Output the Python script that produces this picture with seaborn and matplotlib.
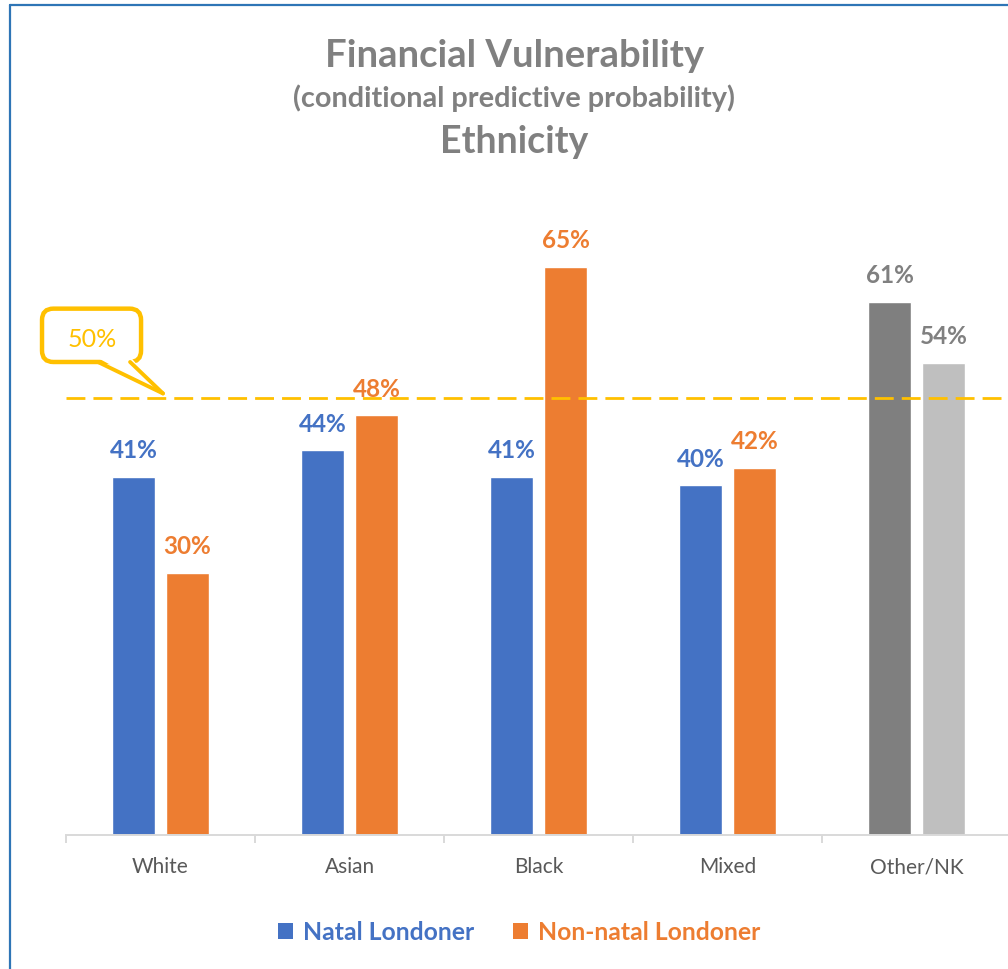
import matplotlib
matplotlib.use("Agg")
import matplotlib.pyplot as plt
from matplotlib.patches import FancyBboxPatch, Polygon, Patch
from matplotlib.lines import Line2D
import seaborn as sns
import pandas as pd

# ---- data -------------------------------------------------------------
categories = ["White", "Asian", "Black", "Mixed", "Other/NK"]
natal = [0.41, 0.44, 0.41, 0.40, 0.61]
non_natal = [0.30, 0.48, 0.65, 0.42, 0.54]
series_names = ["Natal Londoner", "Non-natal Londoner"]
threshold = 0.50

BLUE = "#4472C4"
ORANGE = "#ED7D31"
DARK_GREY = "#7F7F7F"
LIGHT_GREY = "#BFBFBF"
GOLD = "#FFC000"
TITLE_GREY = "#808080"
TICK_GREY = "#595959"
AXIS_GREY = "#D9D9D9"

df = pd.DataFrame({
    "ethnicity": categories * 2,
    "group": [series_names[0]] * len(categories) + [series_names[1]] * len(categories),
    "prob": natal + non_natal,
})

sns.set_theme(style="white")
plt.rcParams["font.family"] = ["Lato", "DejaVu Sans"]

fig = plt.figure(figsize=(10.08, 9.69), dpi=100)
ax = fig.add_axes([0.0655, 0.1383, 0.9375, 0.6316])

sns.barplot(data=df, x="ethnicity", y="prob", hue="group",
            palette=[BLUE, ORANGE], width=0.571, gap=0.2,
            order=categories, hue_order=series_names,
            legend=False, ax=ax, saturation=1)

# the "Other/NK" pair is shown in greys
ax.containers[0][4].set_facecolor(DARK_GREY)
ax.containers[1][4].set_facecolor(LIGHT_GREY)

ax.set_ylim(0, 0.70)
ax.set_xlim(-0.5, 4.5)

# value labels
for ci, (vals, col) in enumerate(zip([natal, non_natal], [BLUE, ORANGE])):
    for i, (bar, v) in enumerate(zip(ax.containers[ci], vals)):
        c = TITLE_GREY if categories[i] == "Other/NK" else col
        ax.annotate(f"{v:.0%}", (bar.get_x() + bar.get_width() / 2, v),
                    xytext=(0, 13.5), textcoords="offset points",
                    ha="center", va="baseline", fontsize=17.5,
                    fontweight="bold", color=c)

# 50% reference line
ax.axhline(threshold, color=GOLD, lw=2.0, linestyle=(0, (6.8, 2.9)), zorder=1)

# callout for the reference line
box = FancyBboxPatch((-0.627, 0.541), 0.524, 0.061,
                     boxstyle="round,pad=0,rounding_size=0.06",
                     mutation_aspect=0.216, fc="white", ec=GOLD, lw=3.2,
                     clip_on=False, zorder=5)
ax.add_patch(box)
tail = Polygon([(-0.335, 0.546), (-0.157, 0.546), (0.013, 0.505)],
               closed=True, fc="white", ec="none", clip_on=False, zorder=6)
ax.add_patch(tail)
for bx in (-0.331, -0.161):
    ax.add_line(Line2D([bx, 0.013], [0.541, 0.505], color=GOLD, lw=2.8,
                       solid_capstyle="round", clip_on=False, zorder=7))
ax.text(-0.362, 0.5665, f"{threshold:.0%}", ha="center", va="center",
        fontsize=18, color=GOLD, zorder=8)

# axes styling
for s in ("left", "top", "right"):
    ax.spines[s].set_visible(False)
ax.spines["bottom"].set_color(AXIS_GREY)
ax.spines["bottom"].set_linewidth(1.4)
ax.set_yticks([])
ax.set_xlabel("")
ax.set_ylabel("")
ax.set_xticks(range(len(categories)))
ax.set_xticklabels(categories)
ax.set_xticks([i - 0.5 for i in range(len(categories) + 1)], minor=True)
ax.tick_params(axis="x", which="major", length=0, pad=16,
               labelsize=15, labelcolor=TICK_GREY)
ax.tick_params(axis="x", which="minor", length=6, width=1.4,
               color=AXIS_GREY, direction="out", bottom=True)

# titles
fig.text(0.51, 1 - 56 / 969, "Financial Vulnerability", ha="center", va="center",
         fontsize=27.5, fontweight="bold", color=TITLE_GREY)
fig.text(0.51, 1 - 98 / 969, "(conditional predictive probability)", ha="center",
         va="center", fontsize=20.8, fontweight="bold", color=TITLE_GREY)
fig.text(0.51, 1 - 142 / 969, "Ethnicity", ha="center", va="center",
         fontsize=27, fontweight="bold", color=TITLE_GREY)

# legend
handles = [Patch(fc=BLUE, ec="none"), Patch(fc=ORANGE, ec="none")]
leg = fig.legend(handles, series_names, loc="center", bbox_to_anchor=(0.515, 0.038),
                 ncol=2, frameon=False, handlelength=0.6, handleheight=0.6,
                 handletextpad=0.4, columnspacing=1.6,
                 prop={"size": 17.8, "weight": "bold"})
for t, c in zip(leg.get_texts(), [BLUE, ORANGE]):
    t.set_color(c)

# chart frame (left and top edges)
fig.add_artist(Line2D([9.5 / 1008, 9.5 / 1008], [0, 1 - 4.5 / 969],
                      transform=fig.transFigure, color="#2E75B6", lw=1.6))
fig.add_artist(Line2D([9.5 / 1008, 1], [1 - 4.5 / 969, 1 - 4.5 / 969],
                      transform=fig.transFigure, color="#2E75B6", lw=1.6))

fig.savefig("out.png", dpi=100, facecolor="white")
